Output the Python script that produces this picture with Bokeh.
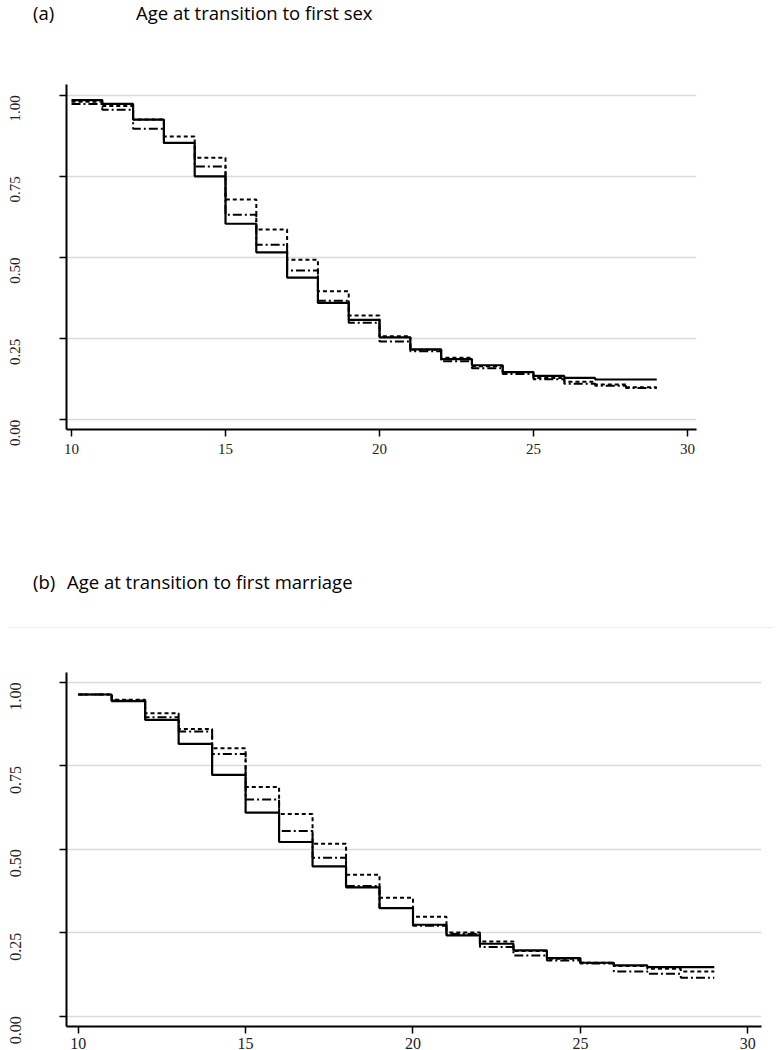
import math
from bokeh.plotting import figure
from bokeh.layouts import column
from bokeh.models import FixedTicker, PrintfTickFormatter, Range1d, Div
from bokeh.embed import file_html
from bokeh.resources import INLINE

ages = list(range(10, 30))  # step boundaries 10..29

# (a) Age at transition to first sex
sex_solid = [0.985, 0.973, 0.925, 0.853, 0.750, 0.604, 0.516, 0.438, 0.360, 0.308,
             0.254, 0.217, 0.187, 0.168, 0.147, 0.135, 0.129, 0.124, 0.124]
sex_dash = [0.980, 0.967, 0.925, 0.873, 0.807, 0.679, 0.586, 0.493, 0.396, 0.321,
            0.257, 0.216, 0.191, 0.165, 0.147, 0.129, 0.117, 0.109, 0.100]
sex_dashdot = [0.973, 0.955, 0.897, 0.853, 0.780, 0.632, 0.539, 0.460, 0.367, 0.299,
               0.241, 0.211, 0.180, 0.159, 0.141, 0.125, 0.111, 0.105, 0.098]

# (b) Age at transition to first marriage
mar_solid = [0.964, 0.944, 0.888, 0.816, 0.723, 0.610, 0.522, 0.449, 0.386, 0.324,
             0.274, 0.242, 0.217, 0.197, 0.174, 0.160, 0.152, 0.147, 0.147]
mar_dash = [0.964, 0.948, 0.908, 0.861, 0.803, 0.687, 0.606, 0.517, 0.424, 0.355,
            0.298, 0.251, 0.224, 0.195, 0.172, 0.160, 0.150, 0.142, 0.134]
mar_dashdot = [0.964, 0.946, 0.896, 0.853, 0.786, 0.649, 0.555, 0.475, 0.390, 0.324,
               0.271, 0.246, 0.207, 0.182, 0.167, 0.158, 0.134, 0.127, 0.115]

y_ticks = [0.0, 0.25, 0.5, 0.75, 1.0]
x_ticks = [10, 15, 20, 25, 30]

title_a = ["(a)", "Age at transition to first sex"]
title_b = ["(b)", "Age at transition to first marriage"]

PAGE_W = 781


def title_div(height, texts, lefts, top, rule_top=None):
    spans = "".join(
        '<span style="position:absolute;left:%dpx;top:%dpx;white-space:nowrap;">%s</span>'
        % (lx, top, tx) for tx, lx in zip(texts, lefts))
    rule = ""
    if rule_top is not None:
        rule = ('<div style="position:absolute;left:8px;top:%dpx;width:765px;height:0;'
                'border-top:1px solid #ececec;"></div>' % rule_top)
    html = ('<div style="position:relative;width:%dpx;height:%dpx;'
            'font-family:\'Open Sans\';font-size:18.5px;line-height:18px;color:#000;">%s%s</div>'
            % (PAGE_W, height, spans, rule))
    return Div(text=html, width=PAGE_W, height=height, margin=(0, 0, 0, 0))


def make_plot(fw, fh, bl, br, bt, bb, xr, yr, solid, dash, dashdot,
              tick_size, ystand, xstand):
    p = figure(frame_width=fw, frame_height=fh, output_backend="svg", toolbar_location=None,
               x_range=Range1d(*xr), y_range=Range1d(*yr),
               min_border_left=bl, min_border_right=br, min_border_top=bt,
               min_border_bottom=bb)
    p.outline_line_color = None
    p.xgrid.visible = False
    p.ygrid.grid_line_color = "#dadada"
    p.ygrid.grid_line_width = 1.5
    p.ygrid.ticker = FixedTicker(ticks=y_ticks)
    p.yaxis.ticker = FixedTicker(ticks=y_ticks)
    p.xaxis.ticker = FixedTicker(ticks=x_ticks)
    p.yaxis.formatter = PrintfTickFormatter(format="%.2f")
    p.yaxis.major_label_orientation = math.pi / 2
    for ax in (p.xaxis, p.yaxis):
        ax.axis_line_width = 2
        ax.axis_line_color = "black"
        ax.major_tick_line_color = "black"
        ax.major_tick_line_width = 1.5
        ax.major_tick_out = 7
        ax.major_tick_in = 0
        ax.minor_tick_line_color = None
        ax.major_label_text_font = "Liberation Serif"
        ax.major_label_text_font_size = tick_size
        ax.major_label_text_color = "#222222"
    p.yaxis.major_label_standoff = ystand
    p.xaxis.major_label_standoff = xstand

    def ext(v):
        return v + [v[-1]]

    p.step(ages, ext(dash), mode="after", line_color="black", line_width=2,
           line_dash="4 3")
    p.step(ages, ext(dashdot), mode="after", line_color="black", line_width=2,
           line_dash="9 3 2 3")
    p.step(ages, ext(solid), mode="after", line_color="black", line_width=2.2)
    return p


t1 = title_div(28, title_a, [33, 136], 4)
p1 = make_plot(630, 345, 66, 85, 56, 131, (9.838, 30.29), (-0.030, 1.033),
               sex_solid, sex_dash, sex_dashdot, "15px", 44, 7)
t2 = title_div(70, title_b, [33, 67], 13, rule_top=67)
p2 = make_plot(695, 354, 66, 20, 42, 24, (9.65, 30.41), (-0.031, 1.03),
               mar_solid, mar_dash, mar_dashdot, "16px", 44, 4)

layout = column(t1, p1, t2, p2, spacing=0)
open("out.html", "w").write(file_html(layout, INLINE))
